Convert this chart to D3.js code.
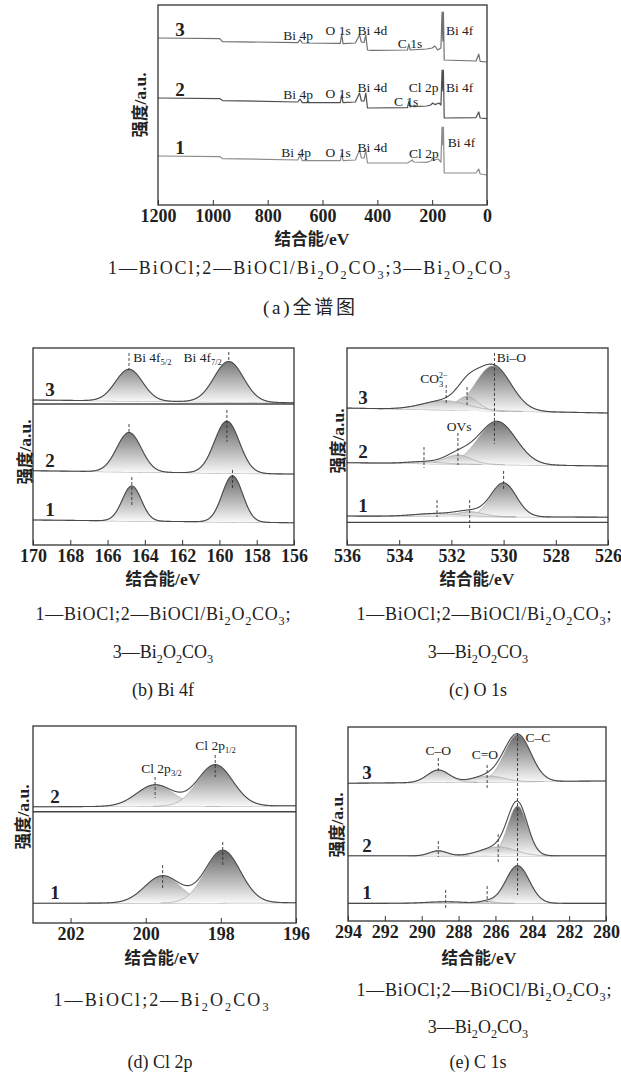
<!DOCTYPE html>
<html>
<head>
<meta charset="utf-8">
<script src="https://cdn.jsdelivr.net/npm/d3@7"></script>
<style>
  body { margin: 0; background: #fff; }
  svg { display: block; }
</style>
</head>
<body>
<script>
const W = 621, H = 1079;
const SERIF = "'Liberation Serif','Times New Roman',serif";
const CJK = "'Noto Sans CJK SC','Noto Sans CJK JP',sans-serif";

// ---- (a) survey: [binding energy eV, intensity a.u.] ----
const surveyTicks = [1200, 1000, 800, 600, 400, 200, 0];
const survey1 = [[1200,24.5],[975,24.2],[965,23.2],[690,22.5],[682,25],[674,22.2],[535,22.2],[530,26],[525,22.2],
  [480,22.5],[465,27.5],[458,23.5],[448,23.5],[442,27.5],[436,21],[290,21],[272,22.5],[268,21.5],[220,21.3],
  [205,22],[198,23.5],[192,22.5],[178,23],[168,21.5],[164,39],[161,30],[159,39],[156,16],[40,16],[30,18],[25,15.5],[0,15]];
const survey2 = [[1200,53.5],[975,53.2],[965,52.2],[690,51.5],[682,53],[674,51.2],[535,51.2],[530,55],[525,51.2],
  [480,51.5],[465,56],[458,52],[448,52],[442,56],[436,48.5],[290,48.7],[285,52],[280,49],[272,49.5],[268,49.2],
  [220,49.5],[205,50],[198,51],[190,50.2],[175,51],[168,50],[164,67.5],[161,57],[159,67.5],[156,43.5],[40,43.7],
  [30,46.5],[25,43.5],[0,43.2]];
const survey3 = [[1200,83.5],[975,83.2],[965,81.7],[690,81.2],[682,82.7],[674,81],[535,80.8],[530,85.5],[525,80.7],
  [480,81],[465,85],[458,81.5],[448,81.3],[442,85],[436,77.5],[420,77.3],[290,77.5],[285,80.5],[280,77.5],
  [220,78],[200,78.5],[190,79.5],[180,77.5],[168,78.5],[164,96.5],[161,82],[159,96.5],[156,72.5],[40,72],
  [30,75.5],[25,71.8],[0,71.5]];
const surveyNames = ["1", "2", "3"];
// [text, eV, intensity]
const surveyLabels = [
  ["Bi 4p",689,85],["O 1s",543,87.5],["Bi 4d",418,87.5],["C 1s",281,81],["Bi 4f",100,87.5],
  ["Bi 4p",689,55.5],["O 1s",543,56],["Bi 4d",418,59],["C 1s",295,52],["Cl 2p",231,59],["Bi 4f",100,59],
  ["Bi 4p",696,26.5],["O 1s",543,26.5],["Bi 4d",418,29],["Cl 2p",230,26],["Bi 4f",93,31.5]
];

// ---- fitted panels: background [intensity at left, at right], peaks [centre eV, height, FWHM] ----
const bi4fTicks = [170, 168, 166, 164, 162, 160, 158, 156];
const bi4fBackground = [[12.7, 11.3], [37.7, 36.0], [73.6, 72.2]];
const bi4fPeaks = [
  [[164.7, 17.8, 1.2], [159.3, 23.5, 1.29]],
  [[164.85, 20.0, 1.55], [159.6, 26.4, 1.57]],
  [[164.85, 16.1, 1.7], [159.5, 20.6, 1.85]]
];
const bi4fSeparators = [71.6];
const bi4fMarkers = [[164.85,97.5,88.8],[159.5,98,92.9],[164.85,61.4,56.3],[159.6,68.5,52.3],[164.7,34.5,20.3],[159.3,38.1,28.9]];
const bi4fLabels = [["Bi 4f","5/2",163.6,95.4],["Bi 4f","7/2",160.9,95.4]];

const o1sTicks = [536, 534, 532, 530, 528, 526];
const o1sBackground = [[14.7, 14.1], [41.8, 40.1], [69.5, 67.0]];
const o1sPeaks = [
  [[530.0, 17.1, 1.15], [531.3, 2.5, 1.2], [532.55, 1.5, 2.0]],
  [[530.25, 21.9, 1.7], [531.75, 4.6, 1.2], [533.05, 1.0, 1.5]],
  [[530.4, 22.8, 1.6], [531.4, 7.1, 0.95], [532.25, 4.7, 2.0]]
];
const o1sSeparators = [11.5];
const o1sMarkers = [[530.35,97.5,51.3],[532.2,81.2,72.1],[531.4,80.2,70.1],[531.75,56.9,40.6],[533.05,49.7,39.1],
  [530.0,37.6,27.9],[531.3,22.8,8.6],[532.55,22.8,14.2]];
const o1sLabels = [["Bi–O","",529.7,95.4],["OVs","",531.7,60.4]];
const o1sCarbonate = [532.67, 84.8];

const cl2pTicks = [202, 200, 198, 196];
const cl2pBackground = [[10.0, 10.3], [59.0, 59.5]];
const cl2pPeaks = [
  [[199.55, 13.8, 1.12], [197.95, 26.7, 1.1]],
  [[199.75, 10.9, 1.15], [198.15, 21.0, 1.1]]
];
const cl2pSeparators = [56.5];
const cl2pMarkers = [[199.75,74.1,63.5],[198.15,85.3,74.1],[199.55,29.4,17.8],[197.95,41.1,28.4]];
const cl2pLabels = [["Cl 2p","1/2",198.14,90.4],["Cl 2p","3/2",199.58,78.7]];

const c1sTicks = [294, 292, 290, 288, 286, 284, 282, 280];
const c1sBackground = [[9.1, 9.1], [33.6, 33.6], [71.0, 72.2]];
const c1sPeaks = [
  [[284.8, 19.4, 1.5], [286.45, 1.0, 1.0], [288.7, 0.8, 2.5]],
  [[284.8, 25.7, 1.25], [285.85, 4.6, 2.2], [289.1, 2.6, 1.1]],
  [[284.8, 24.2, 1.7], [286.4, 3.1, 2.0], [289.1, 6.4, 1.4]]
];
const c1sSeparators = [];
const c1sMarkers = [[284.8,96.9,13.4],[289.1,84.0,76.8],[286.45,80.4,68.6],[289.1,41.2,33.0],[285.85,44.8,30.4],
  [286.45,18.0,9.8],[288.7,16.0,5.7]];
const c1sLabels = [["C–C","",283.7,94.8],["C–O","",289.1,88.1],["C=O","",286.57,86.1]];

const svg = d3.select("body").append("svg")
  .attr("width", W).attr("height", H)
  .attr("viewBox", `0 0 ${W} ${H}`)
  .attr("xmlns", "http://www.w3.org/2000/svg");
const defs = svg.append("defs");
svg.append("rect").attr("width", W).attr("height", H).attr("fill", "#fff");

// mixed CJK / latin title, e.g. 结合能/eV
function mixedTitle(x, y, cjk, latin, rotate) {
  const t = svg.append("text")
    .attr("transform", `translate(${x},${y})` + (rotate ? " rotate(-90)" : ""))
    .attr("text-anchor", "middle").attr("dy", "0.36em")
    .attr("font-size", 16.5).attr("font-weight", 700).attr("fill", "#222");
  t.append("tspan").attr("font-family", CJK).text(cjk);
  t.append("tspan").attr("font-family", SERIF).attr("font-size", 17.5).text(latin);
}

// caption text: digit after a letter becomes a subscript, CJK goes to the CJK font
function richText(x, y, str, size, length) {
  const t = svg.append("text").attr("x", x).attr("y", y).attr("text-anchor", "middle")
    .attr("font-family", SERIF).attr("font-size", size).attr("fill", "#222");
  if (length) t.attr("textLength", length).attr("lengthAdjust", "spacing");
  const runs = [];
  for (let i = 0; i < str.length; i++) {
    const c = str[i];
    let type = "n";
    if (/\d/.test(c) && /[A-Za-z]/.test(str[i - 1] || "")) type = "sub";
    else if (/[\u4e00-\u9fff]/.test(c)) type = "cjk";
    if (runs.length && runs[runs.length - 1].type === type) runs[runs.length - 1].s += c;
    else runs.push({ type, s: c });
  }
  let shift = 0;
  runs.forEach(r => {
    const ts = t.append("tspan").text(r.s);
    const target = r.type === "sub" ? size * 0.3 : 0;
    if (target !== shift) { ts.attr("dy", target - shift); shift = target; }
    if (r.type === "sub") ts.attr("font-size", size * 0.68);
    if (r.type === "cjk") ts.attr("font-family", CJK);
  });
}

function frameAndAxis(cfg, x) {
  const axis = d3.axisBottom(x).tickValues(cfg.ticks).tickSizeInner(-5).tickSizeOuter(0)
    .tickPadding(4).tickFormat(d3.format("d"));
  const ga = svg.append("g").attr("transform", `translate(0,${cfg.y1})`).call(axis);
  ga.select(".domain").remove();
  ga.selectAll("line").attr("stroke", "#333");
  ga.selectAll("text").attr("font-family", SERIF).attr("font-weight", 700)
    .attr("font-size", 18).attr("fill", "#1e1e1e");
  svg.append("rect").attr("x", cfg.x0).attr("y", cfg.y0)
    .attr("width", cfg.x1 - cfg.x0).attr("height", cfg.y1 - cfg.y0)
    .attr("fill", "none").attr("stroke", "#333").attr("stroke-width", 1.3);
  mixedTitle(cfg.tx[0], cfg.tx[1], "结合能", "/eV", false);
  mixedTitle(cfg.ty[0], cfg.ty[1], "强度", "/a.u.", true);
}

function specNumber(px, py, s) {
  svg.append("text").attr("x", px).attr("y", py).attr("dy", "0.36em")
    .attr("text-anchor", "middle").attr("font-family", SERIF).attr("font-weight", 700)
    .attr("font-size", 19).attr("fill", "#222").text(s);
}

// ---------- (a) survey ----------
(function () {
  const cfg = { x0: 158, x1: 487, y0: 5, y1: 205, ticks: surveyTicks, tx: [312, 239], ty: [140, 105] };
  const x = d3.scaleLinear().domain([1200, 0]).range([cfg.x0, cfg.x1]);
  const y = d3.scaleLinear().domain([0, 100]).range([cfg.y1, cfg.y0]);
  const line = d3.line().x(d => x(d[0])).y(d => y(d[1]));
  const colors = ["#8c8c8c", "#4f4f4f", "#707070"];
  [survey1, survey2, survey3].forEach((s, i) => {
    svg.append("path").datum(s).attr("d", line).attr("fill", "none")
      .attr("stroke", colors[i]).attr("stroke-width", 1.2).attr("stroke-linejoin", "round");
    specNumber(cfg.x0 + 22, y(s[0][1]) - 9, surveyNames[i]);
  });
  surveyLabels.forEach(l => {
    svg.append("text").attr("x", x(l[1])).attr("y", y(l[2])).attr("dy", "0.36em")
      .attr("text-anchor", "middle").attr("font-family", SERIF).attr("font-size", 13.5)
      .attr("fill", "#222").text(l[0]);
  });
  frameAndAxis(cfg, x);
})();

// ---------- fitted panels ----------
function gauss(e, p) {
  return p[1] * Math.exp(-4 * Math.LN2 * (e - p[0]) * (e - p[0]) / (p[2] * p[2]));
}

let gradCount = 0;
function drawFit(cfg) {
  const x = d3.scaleLinear().domain(cfg.domain).range([cfg.x0, cfg.x1]);
  const y = d3.scaleLinear().domain([0, 100]).range([cfg.y1, cfg.y0]);
  const grid = d3.range(0, 1201).map(i => cfg.domain[0] + (cfg.domain[1] - cfg.domain[0]) * i / 1200);
  const g = svg.append("g");

  cfg.separators.forEach(v => {
    g.append("line").attr("x1", cfg.x0).attr("x2", cfg.x1).attr("y1", y(v)).attr("y2", y(v))
      .attr("stroke", "#444").attr("stroke-width", 1.4);
  });

  cfg.background.forEach((bg, s) => {
    const base = d3.scaleLinear().domain(cfg.domain).range(bg);
    g.append("path").datum(grid)
      .attr("d", d3.line().x(e => x(e)).y(e => y(base(e))))
      .attr("fill", "none").attr("stroke", "#8a8a8a").attr("stroke-width", 0.9);

    cfg.peaks[s].forEach(p => {
      const pts = grid.filter(e => Math.abs(e - p[0]) < 1.5 * p[2]);
      const hpx = y(0) - y(p[1]);
      const id = "grad" + (gradCount++);
      const lg = defs.append("linearGradient").attr("id", id)
        .attr("x1", 0).attr("y1", 0).attr("x2", 0).attr("y2", 1);
      lg.append("stop").attr("offset", 0)
        .attr("stop-color", d3.interpolateRgb("#d4d4d4", "#626262")(Math.min(1, hpx / 50)));
      lg.append("stop").attr("offset", 1).attr("stop-color", "#f9f9f9");
      g.append("path").datum(pts)
        .attr("d", d3.area().x(e => x(e)).y0(e => y(base(e))).y1(e => y(base(e) + gauss(e, p))))
        .attr("fill", `url(#${id})`);
      g.append("path").datum(pts)
        .attr("d", d3.line().x(e => x(e)).y(e => y(base(e) + gauss(e, p))))
        .attr("fill", "none").attr("stroke", "#a4a4a4").attr("stroke-width", 0.8);
    });

    g.append("path").datum(grid)
      .attr("d", d3.line().x(e => x(e)).y(e => y(base(e) + d3.sum(cfg.peaks[s], p => gauss(e, p)))))
      .attr("fill", "none").attr("stroke", "#4a4a4a").attr("stroke-width", 1.1);

    specNumber(cfg.x0 + cfg.numDx, y(bg[0]) - 11, String(s + 1));
  });

  cfg.markers.forEach(m => {
    g.append("line").attr("x1", x(m[0])).attr("x2", x(m[0])).attr("y1", y(m[1])).attr("y2", y(m[2]))
      .attr("stroke", "#333").attr("stroke-width", 0.9).attr("stroke-dasharray", "3,2");
  });

  cfg.labels.forEach(l => {
    const t = g.append("text").attr("x", x(l[2])).attr("y", y(l[3])).attr("dy", "0.36em")
      .attr("text-anchor", "middle").attr("font-family", SERIF).attr("font-size", 13.5).attr("fill", "#222");
    t.append("tspan").text(l[0]);
    if (l[1]) t.append("tspan").attr("font-size", 8.5).attr("dy", 3).text(l[1]);
  });

  if (cfg.carbonate) {
    const t = g.append("text").attr("x", x(cfg.carbonate[0])).attr("y", y(cfg.carbonate[1])).attr("dy", "0.36em")
      .attr("text-anchor", "middle").attr("font-family", SERIF).attr("font-size", 13.5).attr("fill", "#222");
    t.append("tspan").text("CO");
    t.append("tspan").attr("font-size", 8.5).attr("dy", 4).text("3");
    t.append("tspan").attr("font-size", 8.5).attr("dx", -4.5).attr("dy", -9).text("2−");
  }

  frameAndAxis(cfg, x);
}

drawFit({ domain: [170, 156], x0: 33, x1: 294, y0: 348, y1: 545, ticks: bi4fTicks,
  background: bi4fBackground, peaks: bi4fPeaks, separators: bi4fSeparators, markers: bi4fMarkers,
  labels: bi4fLabels, numDx: 17, tx: [163, 579], ty: [25, 452] });
drawFit({ domain: [536, 526], x0: 347, x1: 608, y0: 348, y1: 545, ticks: o1sTicks,
  background: o1sBackground, peaks: o1sPeaks, separators: o1sSeparators, markers: o1sMarkers,
  labels: o1sLabels, carbonate: o1sCarbonate, numDx: 16, tx: [477, 579], ty: [338, 441] });
drawFit({ domain: [203, 196], x0: 33, x1: 296, y0: 726, y1: 923, ticks: cl2pTicks,
  background: cl2pBackground, peaks: cl2pPeaks, separators: cl2pSeparators, markers: cl2pMarkers,
  labels: cl2pLabels, numDx: 22, tx: [162, 958], ty: [23, 817] });
drawFit({ domain: [294, 280], x0: 348, x1: 606, y0: 727, y1: 921, ticks: c1sTicks,
  background: c1sBackground, peaks: c1sPeaks, separators: c1sSeparators, markers: c1sMarkers,
  labels: c1sLabels, numDx: 19, tx: [479, 958], ty: [337, 825] });

// ---------- captions ----------
const mix3 = "1—BiOCl;2—BiOCl/Bi2O2CO3;";
richText(309, 274, "1—BiOCl;2—BiOCl/Bi2O2CO3;3—Bi2O2CO3", 18, 402);
richText(309, 314, "(a)全谱图", 19, 92);
richText(163, 620, mix3, 18, 255);
richText(163, 658, "3—Bi2O2CO3", 18);
richText(163, 696, "(b) Bi 4f", 18);
richText(484, 620, mix3, 18, 255);
richText(478, 658, "3—Bi2O2CO3", 18);
richText(478, 696, "(c) O 1s", 18);
richText(161, 1006, "1—BiOCl;2—Bi2O2CO3", 18, 215);
richText(160, 1068, "(d) Cl 2p", 18);
richText(484, 996, mix3, 18, 255);
richText(478, 1033, "3—Bi2O2CO3", 18);
richText(478, 1068, "(e) C 1s", 18);
</script>
</body>
</html>
